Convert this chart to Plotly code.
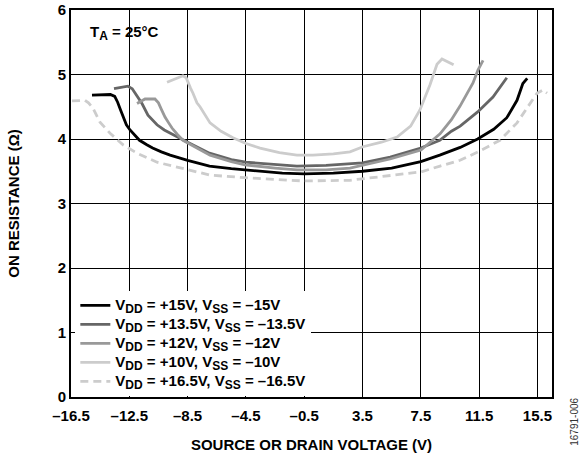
import plotly.graph_objects as go

# ---- data ----
x_15 = [-15.06, -13.8, -13.5, -13.3, -13.1, -12.9, -12.7, -12.45, -12.1, -11.8, -11.3, -10.9, -10.3, -9.7, -8.5, -7.0, -5.5, -4.5, -3.0, -2.0, -0.5, 1.5, 3.5, 5.5, 7.5, 8.8, 10.2, 11.4, 12.5, 13.4, 14.1, 14.5, 14.8]
r_15 = [4.68, 4.69, 4.66, 4.57, 4.45, 4.33, 4.22, 4.14, 4.05, 3.98, 3.91, 3.86, 3.80, 3.75, 3.67, 3.58, 3.54, 3.52, 3.49, 3.47, 3.46, 3.47, 3.50, 3.55, 3.65, 3.75, 3.87, 4.0, 4.15, 4.33, 4.6, 4.86, 4.94]

x_135 = [-13.55, -13.0, -12.6, -12.3, -12.1, -11.85, -11.63, -11.22, -10.6, -10.1, -9.7, -8.5, -7.0, -5.5, -4.5, -2.5, -1.0, 1.0, 2.6, 3.5, 5.4, 7.5, 8.8, 9.6, 10.2, 11.4, 12.45, 13.4]
r_135 = [4.78, 4.80, 4.82, 4.78, 4.71, 4.63, 4.55, 4.37, 4.22, 4.14, 4.09, 3.95, 3.78, 3.68, 3.64, 3.60, 3.58, 3.59, 3.61, 3.63, 3.72, 3.86, 3.98, 4.12, 4.2, 4.42, 4.65, 4.95]

x_12 = [-11.97, -11.42, -10.74, -10.5, -10.3, -10.05, -9.8, -9.57, -9.2, -8.82, -7.86, -6.96, -5.5, -4.56, -2.5, -1.0, 1.0, 2.64, 5.39, 7.51, 8.82, 9.6, 10.19, 11.08, 11.42, 11.77]
r_12 = [4.55, 4.62, 4.62, 4.56, 4.46, 4.34, 4.25, 4.17, 4.07, 3.98, 3.86, 3.75, 3.65, 3.60, 3.55, 3.52, 3.52, 3.55, 3.69, 3.83, 4.08, 4.30, 4.51, 4.87, 5.07, 5.22]

x_10 = [-9.91, -8.82, -8.6, -8.47, -8.3, -8.13, -7.86, -7.65, -6.96, -6.2, -5.39, -4.5, -3.53, -2.2, -1.0, 0.1, 1.5, 2.64, 3.53, 4.8, 5.87, 6.8, 7.44, 8.13, 8.61, 8.95, 9.75]
r_10 = [4.88, 4.98, 4.95, 4.87, 4.79, 4.71, 4.56, 4.50, 4.25, 4.12, 4.02, 3.93, 3.86, 3.79, 3.75, 3.75, 3.77, 3.80, 3.88, 3.95, 4.03, 4.20, 4.45, 4.84, 5.16, 5.24, 5.15]

x_165 = [-16.43, -15.54, -15.3, -15.0, -14.51, -13.82, -12.93, -11.97, -10.6, -9.02, -6.96, -4.56, -2.5, -0.58, 2.64, 5.39, 7.51, 8.82, 10.19, 11.42, 12.93, 14.1, 14.85, 15.47, 15.88, 16.16]
r_165 = [4.59, 4.60, 4.56, 4.48, 4.26, 4.09, 3.91, 3.78, 3.64, 3.55, 3.44, 3.40, 3.37, 3.35, 3.36, 3.44, 3.49, 3.58, 3.67, 3.80, 3.98, 4.25, 4.50, 4.71, 4.76, 4.71]

vdd_labels = ["+15V", "+13.5V", "+12V", "+10V", "+16.5V"]
vss_labels = ["–15V", "–13.5V", "–12V", "–10V", "–16.5V"]

x_ticks = [-16.5, -12.5, -8.5, -4.5, -0.5, 3.5, 7.5, 11.5, 15.5]
x_tick_labels = ["–16.5", "–12.5", "–8.5", "–4.5", "–0.5", "3.5", "7.5", "11.5", "15.5"]
y_ticks = [0, 1, 2, 3, 4, 5, 6]
y_tick_labels = ["0", "1", "2", "3", "4", "5", "6"]

# ---- figure ----
FONT = "Liberation Sans, Arial, sans-serif"
FS = 15
LFS = 15
SUB = '<sub><span style="font-size:12px">%s</span></sub>'
colors = ["#000000", "#666666", "#999999", "#cccccc", "#cccccc"]
dashes = ["solid", "solid", "solid", "solid", "8px,5px"]
xs = [x_15, x_135, x_12, x_10, x_165]
ys = [r_15, r_135, r_12, r_10, r_165]

fig = go.Figure()
for vdd, vss, x, y, c, d in zip(vdd_labels, vss_labels, xs, ys, colors, dashes):
    name = ('<span style="font-size:%spx">V' % LFS + SUB % "DD" + " = " + vdd +
            ", V" + SUB % "SS" + " = " + vss + "</span>")
    fig.add_trace(go.Scatter(
        x=x, y=y, mode="lines", name=name,
        line=dict(color=c, width=2.8, dash=d),
    ))

fig.update_layout(
    width=580, height=458,
    margin=dict(l=71, r=28, t=10, b=61),
    paper_bgcolor="white", plot_bgcolor="white",
    font=dict(family=FONT, size=FS, color="black", weight="bold"),
    showlegend=True,
    legend=dict(
        x=0.009, y=0.003, xanchor="left", yanchor="bottom",
        bgcolor="white", borderwidth=0,
        font=dict(family=FONT, size=12, color="black", weight="bold"),
        tracegroupgap=0,
    ),
    xaxis=dict(
        range=[-16.5, 16.5], tickvals=x_ticks, ticktext=x_tick_labels,
        showgrid=True, gridcolor="#000000", gridwidth=1,
        showline=True, linecolor="black", linewidth=1.8, mirror=True,
        ticks="", zeroline=False, automargin=False, ticklabelstandoff=4,
        tickfont=dict(family=FONT, size=FS, weight="bold"),
        title=dict(text="SOURCE OR DRAIN VOLTAGE (V)", standoff=17,
                   font=dict(family=FONT, size=FS, weight="bold")),
    ),
    yaxis=dict(
        range=[0, 6], tickvals=y_ticks, ticktext=y_tick_labels,
        showgrid=True, gridcolor="#000000", gridwidth=1,
        showline=True, linecolor="black", linewidth=1.8, mirror=True,
        ticks="", zeroline=False, automargin=False,
        tickfont=dict(family=FONT, size=FS, weight="bold"),
        title=dict(text="ON RESISTANCE (Ω)", standoff=35,
                   font=dict(family=FONT, size=FS, weight="bold")),
    ),
    annotations=[
        dict(text="T" + SUB % "A" + " = 25°C", xref="paper", yref="paper",
             x=0.035, y=0.94, xanchor="left", yanchor="middle", showarrow=False,
             font=dict(family=FONT, size=FS, color="black", weight="bold")),
        dict(text="16791-006", xref="paper", yref="paper",
             x=1.047, y=-0.065, xanchor="center", yanchor="middle", showarrow=False,
             textangle=-90,
             font=dict(family=FONT, size=10, color="#333333", weight="normal")),
    ],
)

fig.write_html("out.html", config={"displayModeBar": False},
               post_script="document.body.style.margin='0';")
